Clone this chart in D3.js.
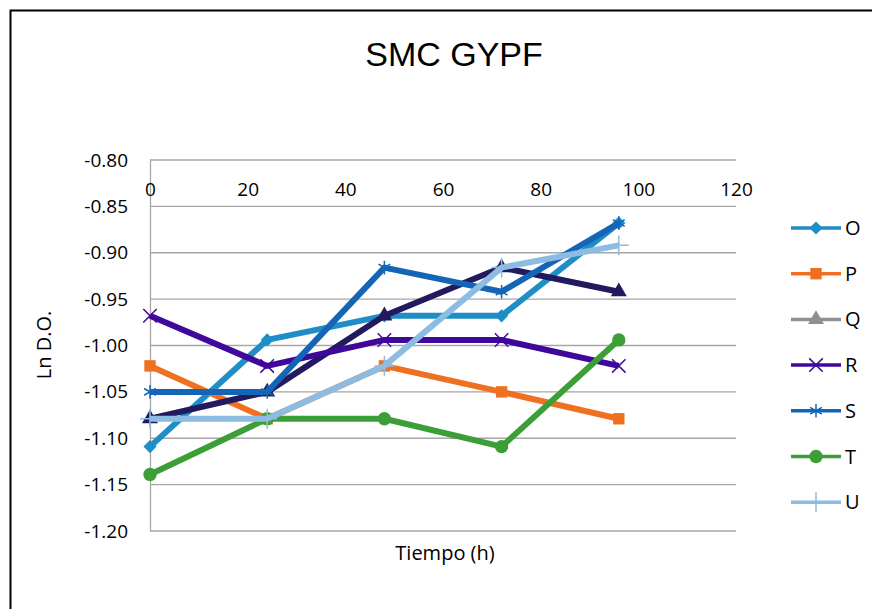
<!DOCTYPE html>
<html>
<head>
<meta charset="utf-8">
<script src="https://cdn.jsdelivr.net/npm/d3@7"></script>
<style>
  body { margin: 0; background: #fff; }
  svg text { fill: #000; }
</style>
</head>
<body>
<div id="chart"></div>
<script>
const TIMES = [0, 24, 48, 72, 96];
const X_TICKS = [0, 20, 40, 60, 80, 100, 120];
const Y_TICKS = [-0.80, -0.85, -0.90, -0.95, -1.00, -1.05, -1.10, -1.15, -1.20];
const SERIES_NAMES = ["O", "P", "Q", "R", "S", "T", "U"];
const O_VALUES = [-1.109, -0.994, -0.968, -0.968, -0.868];
const P_VALUES = [-1.022, -1.079, -1.022, -1.050, -1.079];
const Q_VALUES = [-1.079, -1.050, -0.968, -0.916, -0.942];
const R_VALUES = [-0.968, -1.022, -0.994, -0.994, -1.022];
const S_VALUES = [-1.050, -1.050, -0.916, -0.942, -0.868];
const T_VALUES = [-1.139, -1.079, -1.079, -1.109, -0.994];
const U_VALUES = [-1.079, -1.079, -1.022, -0.916, -0.892];

const w = 872, h = 609;
const padLeft = 150, padRight = 736, padTop = 160, padBottom = 531;

const series = [
  {name: SERIES_NAMES[0], values: O_VALUES, color: "#1f8dc6", legendColor: "#1f8dc6", symbol: d3.symbolDiamond2, size: 110, fill: true},
  {name: SERIES_NAMES[1], values: P_VALUES, color: "#f07021", legendColor: "#f07021", symbol: d3.symbolSquare, size: 130, fill: true},
  {name: SERIES_NAMES[2], values: Q_VALUES, color: "#221a5f", legendColor: "#8f8f8f", symbol: d3.symbolTriangle, size: 110, fill: true},
  {name: SERIES_NAMES[3], values: R_VALUES, color: "#40079b", legendColor: "#40079b", symbol: d3.symbolTimes, size: 120, fill: false},
  {name: SERIES_NAMES[4], values: S_VALUES, color: "#1565b7", legendColor: "#1565b7", symbol: d3.symbolAsterisk, size: 130, fill: false},
  {name: SERIES_NAMES[5], values: T_VALUES, color: "#3c9e36", legendColor: "#3c9e36", symbol: d3.symbolCircle, size: 140, fill: true},
  {name: SERIES_NAMES[6], values: U_VALUES, color: "#8dbce3", legendColor: "#8dbce3", symbol: d3.symbolPlus, size: 130, fill: false}
];

const svg = d3.select("#chart").append("svg")
  .attr("width", w).attr("height", h);

// outer frame
svg.append("path")
  .attr("d", "M10.5," + h + "V10.5H" + w)
  .attr("fill", "none").attr("stroke", "#000").attr("stroke-width", 2);

const xScale = d3.scaleLinear().domain([0, 120]).range([padLeft, padRight]);
const yScale = d3.scaleLinear().domain([-1.20, -0.80]).range([padBottom, padTop]);

// gridlines
svg.append("g")
  .selectAll("line")
  .data(Y_TICKS)
  .enter()
  .append("line")
  .attr("x1", padLeft).attr("x2", padRight)
  .attr("y1", d => yScale(d)).attr("y2", d => yScale(d))
  .attr("stroke", "#a6a6a6").attr("stroke-width", 1.3);

// y axis
const yAxis = d3.axisLeft(yScale).tickValues(Y_TICKS).tickFormat(d => d.toFixed(2)).tickSize(0).tickPadding(22);
const yg = svg.append("g")
  .attr("transform", "translate(" + padLeft + ",0)")
  .call(yAxis);
yg.select(".domain").attr("stroke", "#a6a6a6").attr("stroke-width", 1.3);
yg.selectAll("text")
  .attr("font-family", "Open Sans, sans-serif").attr("font-size", 19)
  .attr("fill", "#000");

// x axis (crosses at top)
const xAxis = d3.axisBottom(xScale).tickValues(X_TICKS).tickSize(0).tickPadding(23);
const xg = svg.append("g")
  .attr("transform", "translate(0," + padTop + ")")
  .call(xAxis);
xg.select(".domain").remove();
xg.selectAll("text")
  .attr("font-family", "Open Sans, sans-serif").attr("font-size", 19)
  .attr("fill", "#000");

// lines
const line = d3.line()
  .x((d, i) => xScale(TIMES[i]))
  .y(d => yScale(d));

series.forEach(s => {
  svg.append("path")
    .datum(s.values)
    .attr("d", line)
    .attr("fill", "none")
    .attr("stroke", s.color)
    .attr("stroke-width", 6)
    .attr("stroke-linejoin", "round");
  svg.append("g")
    .selectAll("path")
    .data(s.values)
    .enter()
    .append("path")
    .attr("transform", (d, i) => "translate(" + xScale(TIMES[i]) + "," + yScale(d) + ")")
    .attr("d", d3.symbol(s.symbol, s.size))
    .attr("fill", s.fill ? s.color : "none")
    .attr("stroke", s.color)
    .attr("stroke-width", s.fill ? 0 : 1.5);
});

// titles
svg.append("text")
  .attr("x", 454).attr("y", 66)
  .attr("text-anchor", "middle")
  .attr("font-family", "Liberation Sans, Arial, sans-serif")
  .attr("font-size", 34)
  .text("SMC GYPF");

svg.append("text")
  .attr("x", 445).attr("y", 560)
  .attr("text-anchor", "middle")
  .attr("font-family", "Open Sans, sans-serif")
  .attr("font-size", 20)
  .text("Tiempo (h)");

svg.append("text")
  .attr("transform", "translate(51,345) rotate(-90)")
  .attr("text-anchor", "middle")
  .attr("font-family", "Open Sans, sans-serif")
  .attr("font-size", 20)
  .text("Ln D.O.");

// legend
const legend = svg.append("g")
  .selectAll("g")
  .data(series)
  .enter()
  .append("g")
  .attr("transform", (d, i) => "translate(791," + (228 + i * 45.7) + ")");
legend.append("line")
  .attr("x1", 0).attr("x2", 50)
  .attr("stroke", d => d.legendColor)
  .attr("stroke-width", 3.5);
legend.append("path")
  .attr("transform", "translate(25,0)")
  .attr("d", d => d3.symbol(d.symbol, d.size)())
  .attr("fill", d => d.fill ? d.legendColor : "none")
  .attr("stroke", d => d.legendColor)
  .attr("stroke-width", d => d.fill ? 0 : 1.5);
legend.append("text")
  .attr("x", 54).attr("dy", "0.35em")
  .attr("font-family", "Open Sans, sans-serif")
  .attr("font-size", 20)
  .text(d => d.name);
</script>
</body>
</html>
